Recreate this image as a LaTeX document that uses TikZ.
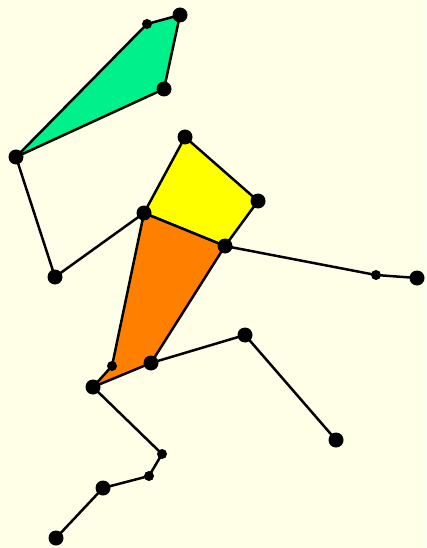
\documentclass[tikz,border=0pt]{standalone}
\definecolor{bgc}{RGB}{255,255,232}
\definecolor{greenc}{RGB}{0,240,140}
\definecolor{yellowc}{RGB}{255,255,0}
\definecolor{orangec}{RGB}{255,128,0}
\begin{document}
\begin{tikzpicture}[x=1pt,y=-1pt,
  big/.style={circle,fill=black,inner sep=0pt,minimum size=15pt},
  small/.style={circle,fill=black,inner sep=0pt,minimum size=10pt},
  bone/.style={line width=2.5pt,line join=round},
  part/.style={line width=2.5pt,line join=round,draw=black}]
\fill[bgc] (0,0) rectangle (426,548);
\useasboundingbox (0,0) rectangle (426,548);
\coordinate (A) at (180,15);
\coordinate (B) at (147,24);
\coordinate (C) at (164,89);
\coordinate (D) at (16,157);
\coordinate (E) at (55,277);
\coordinate (F) at (144,213);
\coordinate (G) at (185,137);
\coordinate (H) at (258,201);
\coordinate (I) at (225,246);
\coordinate (J) at (151,363);
\coordinate (K) at (93,387);
\coordinate (T) at (112,366);
\coordinate (L) at (376,275);
\coordinate (M) at (417,278);
\coordinate (N) at (245,335);
\coordinate (O) at (336,440);
\coordinate (P) at (162,454);
\coordinate (Q) at (149,476);
\coordinate (R) at (103,488);
\coordinate (S) at (56,538);
\filldraw[part,fill=greenc] (D) -- (B) -- (A) -- (C) -- cycle;
\filldraw[part,fill=yellowc] (G) -- (H) -- (I) -- (F) -- cycle;
\filldraw[part,fill=orangec] (F) -- (I) -- (J) -- (K) -- (T) -- cycle;
\draw[bone] (D) -- (E) -- (F);
\draw[bone] (I) -- (L) -- (M);
\draw[bone] (J) -- (N) -- (O);
\draw[bone] (K) -- (P) -- (Q) -- (R) -- (S);
\foreach \p in {A,C,D,E,F,G,H,I,J,K,M,N,O,R,S} \node[big] (n\p) at (\p) {};
\foreach \p in {B,T,L,P,Q} \node[small] (n\p) at (\p) {};
\end{tikzpicture}
\end{document}
